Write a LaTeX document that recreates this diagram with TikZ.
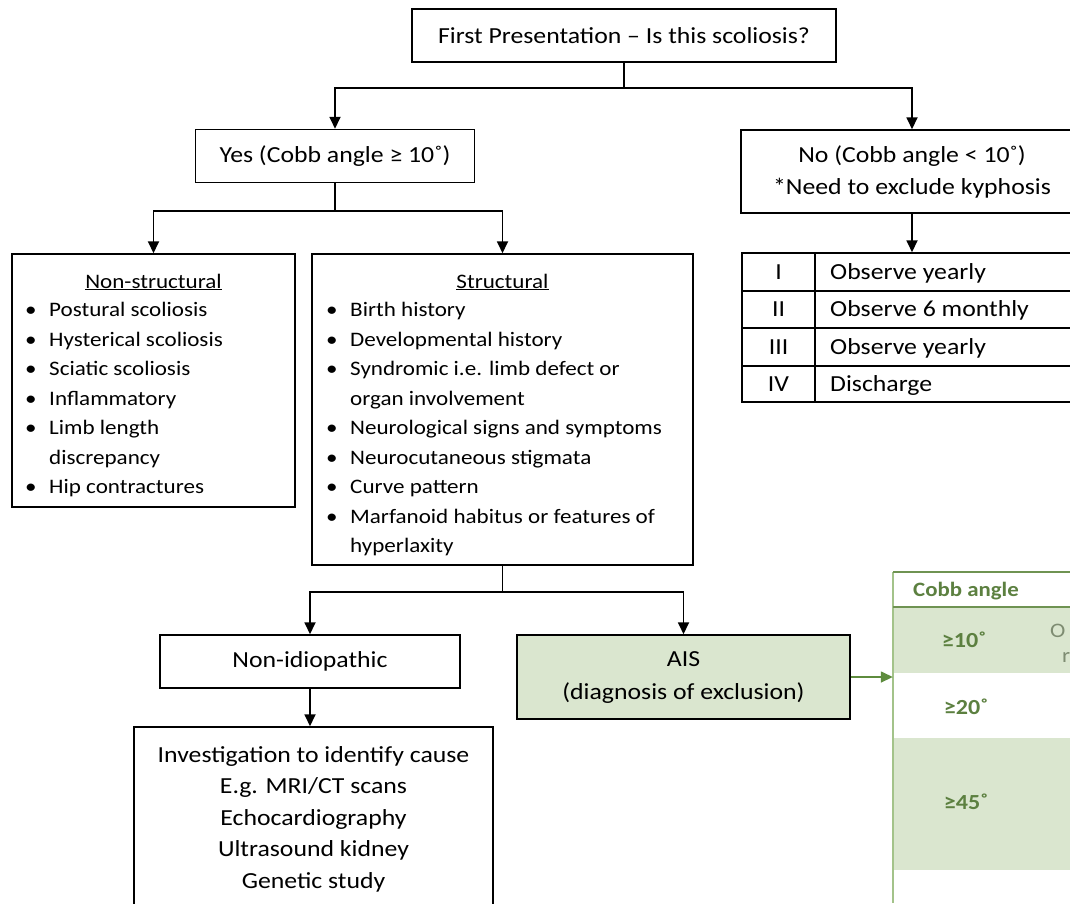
\documentclass[tikz,border=0pt]{standalone}
\usepackage{fontspec}
\setmainfont[FakeStretch=1.12]{Carlito}
\usetikzlibrary{arrows.meta}
\definecolor{gfill}{HTML}{DAE6CF}
\definecolor{gtext}{HTML}{5C8040}
\definecolor{gline}{HTML}{A3C38A}
\definecolor{gdark}{HTML}{6F9352}
\definecolor{garrow}{HTML}{5E8C3E}
\definecolor{ggray}{HTML}{7E8C72}
\begin{document}
\begin{tikzpicture}[x=1pt,y=-1pt,
  font=\fontsize{20.6}{24}\selectfont,
  box/.style={draw, line width=1.5pt, inner sep=0pt, align=center, font=\fontsize{23}{28}\selectfont},
  ln/.style={line width=1.8pt},
  arr/.style={line width=1.8pt, -{Triangle[length=12pt,width=11pt]}},
  itm/.style={anchor=base west, inner sep=0pt},
  ctr/.style={anchor=base, inner sep=0pt},
  big/.style={font=\fontsize{23}{28}\selectfont},
  cell/.style={anchor=base, inner sep=0pt, text=gtext, font=\fontsize{21.5}{24}\selectfont\bfseries},
  line join=miter]
\useasboundingbox (0,0) rectangle (1070,903);
\clip (0,0) rectangle (1070,903);

% ---------- top level ----------
\node[box, minimum width=424pt, minimum height=53pt] (top) at (624,35.5) {First Presentation – Is this scoliosis?};
\node[box, minimum width=279pt, minimum height=53pt] (yes) at (335,156) {Yes (Cobb angle ≥ 10˚)};
\node[box, minimum width=342pt, minimum height=83pt, font=\fontsize{23}{32}\selectfont] (no) at (912,171.5) {No (Cobb angle < 10˚)\\*Need to exclude kyphosis};
\coordinate (j1) at (624,88);
\draw[ln] (top.south) -- (j1);
\draw[arr] (j1) -| (yes.north);
\draw[arr] (j1) -| (no.north);

% ---------- No table ----------
\node[draw, line width=1.5pt, minimum width=358pt, minimum height=149pt, inner sep=0pt] (tab) at (921,327.5) {};
\draw[arr] (no.south) -- (no.south |- tab.north);
\draw[line width=1.5pt] (815,253) -- (815,402);
\foreach \yy in {291,328,366} \draw[line width=1.5pt] (742,\yy) -- (1100,\yy);
\foreach \yy/\rn/\tx [count=\i] in {272/I/Observe yearly, 309.5/II/Observe 6 monthly, 347/III/Observe yearly, 384/IV/Discharge} {
  \node[ctr, big] (rn\i) at (778.5,\yy+7) {\rn};
  \node[itm, big] (rt\i) at (830,\yy+7) {\tx};
}

% ---------- second level ----------
\coordinate (j2) at (335,211);
\node[box, minimum width=283pt, minimum height=253pt] (ns) at (153.5,380.5) {};
\node[box, minimum width=381pt, minimum height=311pt] (st) at (502.5,409.5) {};
\draw[ln] (yes.south) -- (j2);
\draw[arr] (j2) -| (ns.north);
\draw[arr] (j2) -| (st.north);

\node[ctr] (nstitle) at (153.5,288) {\underline{Non-structural}};
\foreach \tx [count=\i] in {Postural scoliosis, Hysterical scoliosis, Sciatic scoliosis, Inflammatory, Limb length, discrepancy, Hip contractures} {
  \node[itm] (nsl\i) at (49,316.5+29.5*\i-29.5) {\tx};
}
\foreach \i in {1,2,3,4,5,7} \node[itm] (nsb\i) at (25,316.5+29.5*\i-29.5) {•};

\node[ctr] (sttitle) at (502.5,288) {\underline{Structural}};
\foreach \tx [count=\i] in {Birth history, Developmental history, Syndromic i.e. limb defect or, organ involvement, Neurological signs and symptoms, Neurocutaneous stigmata, Curve pattern, Marfanoid habitus or features of, hyperlaxity} {
  \node[itm] (stl\i) at (350,316.5+29.5*\i-29.5) {\tx};
}
\foreach \i in {1,2,3,5,6,7,8} \node[itm] (stb\i) at (326,316.5+29.5*\i-29.5) {•};

% ---------- third level ----------
\coordinate (j3) at (502.5,592);
\node[box, minimum width=300pt, minimum height=53pt] (nid) at (310,661.5) {Non-idiopathic};
\node[box, fill=gfill, minimum width=333pt, minimum height=84pt, font=\fontsize{23}{33}\selectfont] (ais) at (683.5,677) {AIS\\(diagnosis of exclusion)};
\draw[ln] (st.south) -- (j3);
\draw[arr] (j3) -| (nid.north);
\draw[arr] (j3) -| (ais.north);

\node[box, minimum width=359pt, minimum height=184pt, font=\fontsize{23}{31.5}\selectfont] (inv) at (313.5,819) {Investigation to identify cause\\E.g. MRI/CT scans\\Echocardiography\\Ultrasound kidney\\Genetic study};
\draw[arr] (nid.south) -- (nid.south |- inv.north);

% ---------- Cobb angle table ----------
\node[inner sep=0pt, minimum width=210pt, minimum height=380pt] (cobb) at (998,762) {};
\fill[gfill] (893,607) rectangle (1100,673);
\fill[gfill] (893,738) rectangle (1100,870);
\draw[gline, line width=1.5pt] (893,572) -- (893,903);
\draw[gdark, line width=1.5pt] (893,572) -- (1100,572);
\draw[gdark, line width=2pt] (893,607) -- (1100,607);
\node[anchor=base west, inner sep=0pt, text=gtext, font=\fontsize{20.4}{24}\selectfont\bfseries] (cobbh) at (913,596) {Cobb angle};
\node[cell] (c10) at (964,647) {≥10˚};
\node[cell] (c20) at (966,714) {≥20˚};
\node[cell] (c45) at (966,809) {≥45˚};
\node[itm, text=ggray] (frO) at (1050,637) {O};
\node[itm, text=ggray] (frr) at (1062,662) {r};
\draw[arr, draw=garrow, fill=garrow, line width=1.5pt] (ais.east) -- (cobb.west |- ais.east);
\end{tikzpicture}
\end{document}
